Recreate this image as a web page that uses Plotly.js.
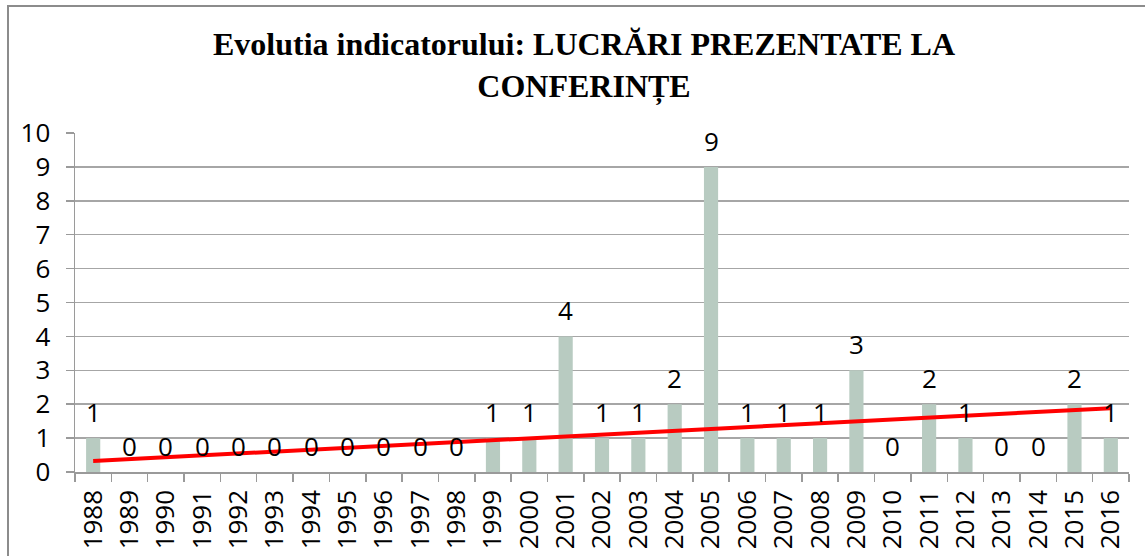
<!DOCTYPE html>
<html>
<head>
<meta charset="utf-8">
<script src="https://cdn.plot.ly/plotly-3.0.1.min.js"></script>
<style>
html,body{margin:0;padding:0;background:#fff;overflow:hidden;}
#frame{position:absolute;left:7px;top:5px;width:1200px;height:700px;border:2px solid #8c8c8c;box-sizing:border-box;}
#chart{position:absolute;left:0;top:0;width:1145px;height:556px;}
</style>
</head>
<body>
<div id="frame"></div>
<div id="chart"></div>
<script>
const years = ['1988','1989','1990','1991','1992','1993','1994','1995','1996','1997','1998','1999','2000','2001','2002','2003','2004','2005','2006','2007','2008','2009','2010','2011','2012','2013','2014','2015','2016'];
const values = [1,0,0,0,0,0,0,0,0,0,0,1,1,4,1,1,2,9,1,1,1,3,0,2,1,0,0,2,1];
const titleText = 'Evolutia indicatorului: LUCRĂRI PREZENTATE LA<br>CONFERINȚE';

// linear trend line (least squares) computed from the data
const n = values.length;
const xs = values.map((_, i) => i + 1);
const mx = xs.reduce((a, b) => a + b, 0) / n;
const my = values.reduce((a, b) => a + b, 0) / n;
let sxy = 0, sxx = 0;
for (let i = 0; i < n; i++) { sxy += (xs[i] - mx) * (values[i] - my); sxx += (xs[i] - mx) ** 2; }
const slope = sxy / sxx;
const intercept = my - slope * mx;
const trend = xs.map(x => intercept + slope * x);

const labelFont = {family: 'Open Sans, Liberation Sans, sans-serif', size: 26, color: '#000'};

// data labels: x given as category serial index on the category axis
const annotations = values.map((v, i) => ({
  x: i, y: v, xref: 'x', yref: 'y',
  text: String(v), showarrow: false,
  yanchor: 'bottom', yshift: 6, font: labelFont
}));

const data = [
  {type: 'bar', x: years, y: values, width: 0.39, marker: {color: '#b8cbc1'}, hoverinfo: 'x+y'},
  {type: 'scatter', mode: 'lines', x: [years[0], years[n - 1]], y: [trend[0], trend[n - 1]],
   line: {color: '#ff0000', width: 4}, hoverinfo: 'skip'}
];

const layout = {
  width: 1145, height: 556,
  margin: {l: 75, r: 16, t: 133, b: 84},
  paper_bgcolor: 'rgba(0,0,0,0)', plot_bgcolor: 'rgba(0,0,0,0)',
  showlegend: false,
  title: {
    text: titleText, x: 584 / 1145, xref: 'container', xanchor: 'center',
    y: 1 - 55 / 556, yref: 'container', yanchor: 'top',
    font: {family: 'Liberation Serif, Times New Roman, serif', size: 32, color: '#000', weight: 'bold'}
  },
  xaxis: {
    type: 'category', range: [-0.5, n - 0.5], tickangle: -90, tickson: 'boundaries',
    ticks: 'outside', ticklen: 8, tickcolor: '#9a9a9a', tickwidth: 1.5,
    showline: true, linecolor: '#9a9a9a', linewidth: 1.5,
    showgrid: false, tickfont: labelFont, ticklabelstandoff: 6, automargin: false
  },
  yaxis: {
    range: [0, 10], dtick: 1, tick0: 0,
    ticks: 'outside', ticklen: 8, tickcolor: '#9a9a9a', tickwidth: 1.5,
    showline: true, linecolor: '#9a9a9a', linewidth: 1.5,
    showgrid: true, gridcolor: '#a6a6a6', gridwidth: 1.5,
    zeroline: false, tickfont: labelFont, ticklabelstandoff: 10, automargin: false
  },
  annotations: annotations
};

Plotly.newPlot('chart', data, layout, {displayModeBar: false, staticPlot: true});
</script>
</body>
</html>
